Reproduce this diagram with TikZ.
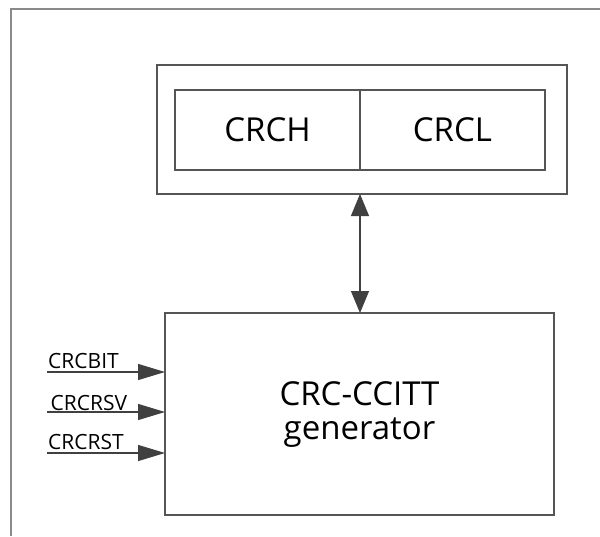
\documentclass[tikz,border=0pt]{standalone}
\usepackage{fontspec}
\setmainfont{Open Sans}
\usetikzlibrary{arrows.meta}
\definecolor{boxline}{HTML}{555555}
\definecolor{frameline}{HTML}{8A8A8A}
\definecolor{tipcol}{HTML}{404040}
\tikzset{
  box/.style={draw=boxline, line width=1.2pt, inner sep=0pt, outer sep=0pt},
  bigtext/.style={font=\fontsize{33}{34}\selectfont},
  lbl/.style={font=\fontsize{21}{22}\selectfont, inner sep=0pt, anchor=base west},
  conn/.style={draw=boxline, line width=1.2pt},
  bitip/.style={{Triangle[length=22pt,width=18pt]}-{Triangle[length=22pt,width=18pt]}, color=tipcol},
  intip/.style={-{Triangle[length=27pt,width=16pt]}, color=tipcol},
}
\begin{document}
\begin{tikzpicture}[x=1pt,y=-1pt]
\useasboundingbox (0,0) rectangle (600,536);
\fill[white] (0,0) rectangle (600,536);
% frame (only top and left edges visible)
\draw[frameline, line width=1.5pt] (11,536) -- (11,9) -- (600,9);
% register box
\node[box, minimum width=410pt, minimum height=129pt] (outer) at (362,129.5) {};
\node[box, bigtext, minimum width=185pt, minimum height=80pt] (crch) at (267.5,130) {CRCH};
\node[box, bigtext, minimum width=185pt, minimum height=80pt] (crcl) at (452.5,130) {CRCL};
% generator
\node[box, minimum width=389pt, minimum height=202pt] (gen) at (359.5,414) {};
\node[bigtext, align=center, inner sep=0pt] (gentext) at (359.5,415) {CRC-CCITT\\generator};
% bidirectional connector
\draw[conn, bitip] (outer.south -| crch.east) -- (gen.north -| crch.east);
% inputs
\coordinate (in1) at (47,372);
\coordinate (in2) at (47,412);
\coordinate (in3) at (47,453);
\node[lbl] (l1) at (48,368) {CRCBIT};
\node[lbl] (l2) at (50.5,410) {CRCRSV};
\node[lbl] (l3) at (48,449) {CRCRST};
\draw[conn, intip] (in1) -- (in1 -| gen.west);
\draw[conn, intip] (in2) -- (in2 -| gen.west);
\draw[conn, intip] (in3) -- (in3 -| gen.west);
\end{tikzpicture}
\end{document}
